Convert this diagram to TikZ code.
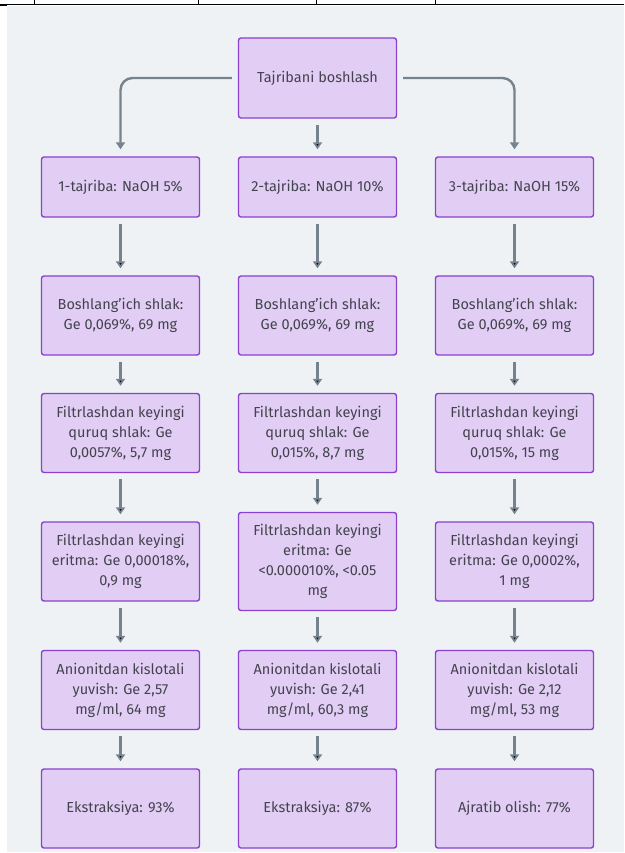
\documentclass[tikz,border=0pt]{standalone}
\usepackage{fontspec}
\setmainfont{Fira Sans}
\usepackage{xcolor}
\usetikzlibrary{arrows.meta}

\definecolor{boxfill}{HTML}{E2CEF4}
\definecolor{boxline}{HTML}{8B40D0}
\definecolor{flowgray}{HTML}{76838F}
\definecolor{textgray}{HTML}{43434F}
\definecolor{pagegray}{HTML}{EEF2F5}

\begin{document}
\begin{tikzpicture}[x=1pt,y=1pt,>={Triangle[length=7pt,width=9pt]},node distance=197pt,
 stage/.style={draw=boxline,fill=boxfill,line width=1.4pt,rounded corners=2.5pt,
 minimum width=158pt,minimum height=79pt,align=center,text=textgray,
 font=\fontsize{14.5}{20}\selectfont,inner sep=3pt},
 flow/.style={->,draw=flowgray,line width=2.4pt,shorten <=6pt,shorten >=7pt}]
 % page, with the table rule above it
 \useasboundingbox (0,0) rectangle (624,-853);
 \fill[pagegray] (7,-6) rectangle (624,-852);
 \draw[line width=1pt] (0,-5) -- (624,-5);
 \foreach \x in {34,198,316,435} \draw[line width=1pt] (\x,0) -- (\x,-5);
 \draw[line width=1pt] (0,-6) -- (7,-6);

 \node[stage,minimum height=80pt] (start) at (317.5,-78) {Tajribani boshlash};

 \node[stage,minimum height=60pt] (t2) [below of=start,node distance=109pt] {2-tajriba: NaOH 10\%};
 \node[stage,minimum height=60pt] (t1) [left of=t2] {1-tajriba: NaOH 5\%};
 \node[stage,minimum height=60pt] (t3) [right of=t2] {3-tajriba: NaOH 15\%};

 \node[stage] (s2) [below of=t2,node distance=128.5pt] {Boshlang’ich shlak:\\Ge 0,069\%, 69 mg};
 \node[stage] (s1) [left of=s2] {Boshlang’ich shlak:\\Ge 0,069\%, 69 mg};
 \node[stage] (s3) [right of=s2] {Boshlang’ich shlak:\\Ge 0,069\%, 69 mg};

 \node[stage] (d2) [below of=s2,node distance=117.5pt] {Filtrlashdan keyingi\\quruq shlak: Ge\\0,015\%, 8,7 mg};
 \node[stage] (d1) [left of=d2] {Filtrlashdan keyingi\\quruq shlak: Ge\\0,0057\%, 5,7 mg};
 \node[stage] (d3) [right of=d2] {Filtrlashdan keyingi\\quruq shlak: Ge\\0,015\%, 15 mg};

 \node[stage,minimum height=98pt] (e2) [below of=d2,node distance=128.5pt] {Filtrlashdan keyingi\\eritma: Ge\\<0.000010\%, <0.05\\mg};
 \node[stage] (e1) [left of=e2] {Filtrlashdan keyingi\\eritma: Ge 0,00018\%,\\0,9 mg};
 \node[stage] (e3) [right of=e2] {Filtrlashdan keyingi\\eritma: Ge 0,0002\%,\\1 mg};

 \node[stage] (w2) [below of=e2,node distance=128.5pt] {Anionitdan kislotali\\yuvish: Ge 2,41\\mg/ml, 60,3 mg};
 \node[stage] (w1) [left of=w2] {Anionitdan kislotali\\yuvish: Ge 2,57\\mg/ml, 64 mg};
 \node[stage] (w3) [right of=w2] {Anionitdan kislotali\\yuvish: Ge 2,12\\mg/ml, 53 mg};

 \node[stage] (y2) [below of=w2,node distance=118.5pt] {Ekstraksiya: 87\%};
 \node[stage] (y1) [left of=y2] {Ekstraksiya: 93\%};
 \node[stage] (y3) [right of=y2] {Ajratib olish: 77\%};

 \draw[flow,rounded corners=12pt] (start.west) -| (t1);
 \draw[flow,rounded corners=12pt] (start.east) -| (t3);
 \path[flow] (start) edge (t2)
 (t1) edge (s1)
 (t2) edge (s2)
 (t3) edge (s3)
 (s1) edge (d1)
 (s2) edge (d2)
 (s3) edge (d3)
 (d1) edge (e1)
 (d2) edge (e2)
 (d3) edge (e3)
 (e1) edge (w1)
 (e2) edge (w2)
 (e3) edge (w3)
 (w1) edge (y1)
 (w2) edge (y2)
 (w3) edge (y3);
\end{tikzpicture}
\end{document}
